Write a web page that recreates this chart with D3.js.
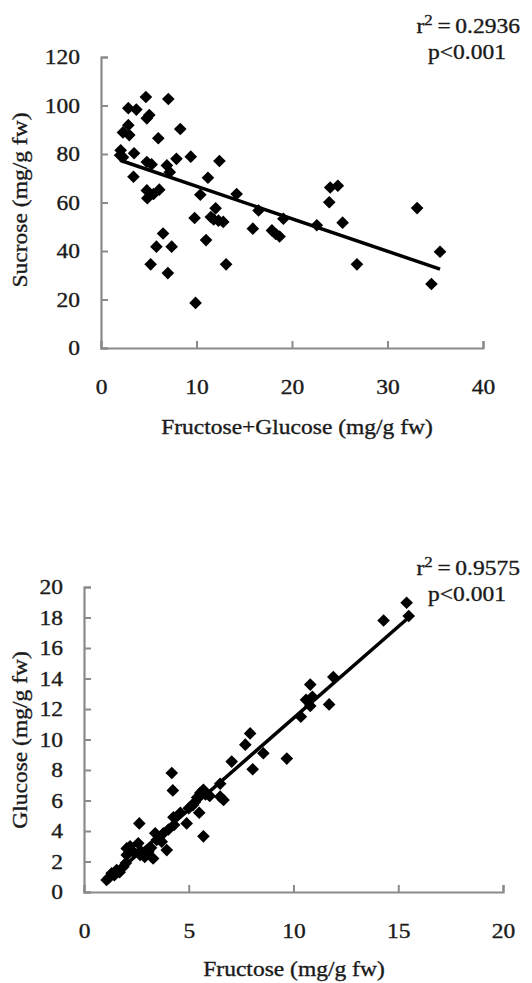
<!DOCTYPE html>
<html>
<head>
<meta charset="utf-8">
<script src="https://cdn.jsdelivr.net/npm/d3@7"></script>
<style>
  body { margin: 0; background: #fff; }
  svg { display: block; }
  text { font-family: "Liberation Serif", "Times New Roman", serif; fill: #1a1a1a; stroke: #1a1a1a; stroke-width: 0.35px; }
</style>
</head>
<body>
<svg id="chart" width="532" height="983"></svg>
<script>
// panel A: sucrose vs fructose+glucose
var sumSugar = [4.7, 7.05, 2.86, 3.7, 5.06, 4.8, 2.86, 2.3, 2.96, 8.3, 6.0, 2.06, 2.3, 3.46, 4.8, 5.3, 6.9, 7.9, 9.4, 12.4,
  7.2, 3.4, 11.2, 4.8, 6.1, 4.85, 10.4, 12.0, 9.8, 11.8, 12.3, 12.8, 11.5, 6.5, 11.0, 5.8, 7.4, 13.1, 5.2, 7.0,
  9.9, 14.2, 16.5, 15.9, 17.9, 18.3, 18.7, 19.1, 22.6, 24.0, 24.8, 23.9, 25.3, 26.8, 33.1, 35.5, 34.6, 2.0, 5.5];
var sucrose = [103.5, 102.7, 98.9, 98.3, 96.1, 94.7, 91.9, 88.9, 87.8, 90.3, 86.5, 81.5, 78.7, 80.3, 76.7, 75.7, 75.3, 78, 78.9, 77.1,
  72.5, 70.6, 70.2, 65.0, 65.3, 61.8, 63.2, 57.6, 53.6, 53, 52.5, 52, 54, 47.2, 44.5, 41.8, 41.8, 34.5, 34.5, 30.9,
  18.6, 63.5, 56.7, 49.2, 48.5, 47, 46, 53.3, 50.6, 66.2, 66.9, 60.1, 51.7, 34.5, 57.7, 39.7, 26.4, 79.5, 63.5];
var fitA = { slope: -1.34, intercept: 80.1, from: 2.0, to: 35.5 };
var ticksA_x = [0, 10, 20, 30, 40];
var ticksA_y = [0, 20, 40, 60, 80, 100, 120];

// panel B: glucose vs fructose
var fructose = [1.08, 1.2, 1.32, 1.45, 1.56, 1.7, 1.88, 2.0, 2.04, 2.04, 2.2, 2.35, 2.59, 2.68, 2.64, 2.7, 2.9, 3.07, 3.2, 3.3,
  3.4, 3.47, 3.71, 3.79, 3.95, 4.03, 4.27, 4.3, 4.19, 4.24, 4.6, 4.9, 5.0, 5.3, 5.2, 5.5, 5.4, 5.55, 5.7, 5.8,
  5.7, 6.0, 6.5, 6.66, 6.5, 7.05, 7.7, 7.93, 8.05, 8.56, 9.68, 10.35, 10.6, 10.8, 10.8, 10.9, 11.7, 11.9, 14.3, 15.4, 15.5];
var glucose = [0.79, 0.95, 1.23, 1.1, 1.44, 1.3, 1.66, 1.9, 2.43, 2.86, 3.0, 2.64, 3.2, 2.43, 4.5, 2.7, 2.3, 2.64, 2.9, 2.2,
  3.85, 3.41, 3.3, 3.85, 2.75, 4.1, 4.9, 4.4, 7.8, 6.66, 5.2, 4.5, 5.5, 5.9, 5.7, 5.2, 6.2, 6.5, 6.7, 6.4,
  3.65, 6.3, 6.25, 6.03, 7.1, 8.55, 9.66, 10.4, 8.05, 9.1, 8.75, 11.5, 12.6, 12.2, 13.6, 12.8, 12.3, 14.1, 17.8, 18.97, 18.1];
var fitB = { slope: 1.2, intercept: -0.6, from: 1.08, to: 15.65 };
var ticksB_x = [0, 5, 10, 15, 20];
var ticksB_y = [0, 2, 4, 6, 8, 10, 12, 14, 16, 18, 20];

var svg = d3.select("#chart");
var SX = 1.12; // the figure's text is a bit wide
var FS = 21;

function label(g, x, y, txt, anchor, rot) {
    var t = g.append("text")
        .attr("transform", "translate(" + x + "," + y + ")" + (rot ? " rotate(" + rot + ")" : "") + " scale(" + SX + ",1)")
        .attr("text-anchor", anchor || "middle")
        .style("font-size", FS + "px");
    t.text(txt);
    return t;
}

// "r² = value" line, right aligned
function stat(g, xEnd, y, r2) {
    var t = g.append("text")
        .attr("transform", "translate(" + xEnd + "," + y + ") scale(" + SX + ",1)")
        .attr("text-anchor", "end")
        .style("font-size", FS + "px");
    t.append("tspan").text("r");
    t.append("tspan").attr("dy", -8).style("font-size", "15px").text("2");
    t.append("tspan").attr("dy", 8).text("\u2009=\u2009" + r2);
}

function panel(opt) {
    var x = d3.scaleLinear().domain(opt.xDomain).range([opt.left, opt.right]);
    var y = d3.scaleLinear().domain(opt.yDomain).range([opt.bottom, opt.top]);
    var g = svg.append("g");

    var xAxis = g.append("g")
        .attr("transform", "translate(0," + opt.bottom + ")")
        .call(d3.axisBottom(x).tickValues(opt.xTicks).tickSizeInner(-7).tickSizeOuter(-7).tickPadding(31));
    var yAxis = g.append("g")
        .attr("transform", "translate(" + opt.left + ",0)")
        .call(d3.axisLeft(y).tickValues(opt.yTicks).tickSizeInner(-7).tickSizeOuter(-7).tickPadding(21));

    [xAxis, yAxis].forEach(function(a) {
        a.select(".domain").attr("stroke", "#8a8a8a").attr("stroke-width", 2.2);
        a.selectAll(".tick line").attr("stroke", "#8a8a8a").attr("stroke-width", 2);
        a.selectAll(".tick text")
            .attr("fill", "#1a1a1a")
            .style("font-family", '"Liberation Serif", serif')
            .style("font-size", FS + "px");
        a.attr("font-family", null).attr("font-size", null);
    });
    xAxis.selectAll(".tick text").attr("transform", "scale(" + SX + ",1)");
    yAxis.selectAll(".tick text").attr("transform", "scale(" + SX + ",1)").attr("x", -21 / SX);

    // fitted line
    g.append("line")
        .attr("x1", x(opt.fit.from)).attr("y1", y(opt.fit.slope * opt.fit.from + opt.fit.intercept))
        .attr("x2", x(opt.fit.to)).attr("y2", y(opt.fit.slope * opt.fit.to + opt.fit.intercept))
        .attr("stroke", "#000").attr("stroke-width", 3.5);

    // diamonds
    var sym = d3.symbol().type(d3.symbolSquare).size(80);
    g.append("g").selectAll("path")
        .data(d3.range(opt.xs.length))
        .enter()
        .append("path")
        .attr("d", sym)
        .attr("transform", function(i) {
            return "translate(" + x(opt.xs[i]) + "," + y(opt.ys[i]) + ") rotate(45)";
        })
        .attr("fill", "#000");

    label(g, opt.xTitleX, opt.xTitleY, opt.xTitle, "middle");
    label(g, 27, opt.yTitleY, opt.yTitle, "middle", -90);
    stat(g, 520, opt.statY, opt.r2);
    label(g, 467, opt.statY + 26, "p<0.001", "middle");
}

panel({
    xs: sumSugar, ys: sucrose, fit: fitA,
    xDomain: [0, 40], yDomain: [0, 120], xTicks: ticksA_x, yTicks: ticksA_y,
    left: 101, right: 483, top: 57, bottom: 348,
    xTitle: "Fructose+Glucose (mg/g fw)", xTitleX: 297, xTitleY: 434,
    yTitle: "Sucrose (mg/g fw)", yTitleY: 200,
    r2: "0.2936", statY: 33
});

panel({
    xs: fructose, ys: glucose, fit: fitB,
    xDomain: [0, 20], yDomain: [0, 20], xTicks: ticksB_x, yTicks: ticksB_y,
    left: 84, right: 503, top: 587, bottom: 892,
    xTitle: "Fructose (mg/g fw)", xTitleX: 294, xTitleY: 976,
    yTitle: "Glucose (mg/g fw)", yTitleY: 740,
    r2: "0.9575", statY: 575
});
</script>
</body>
</html>
